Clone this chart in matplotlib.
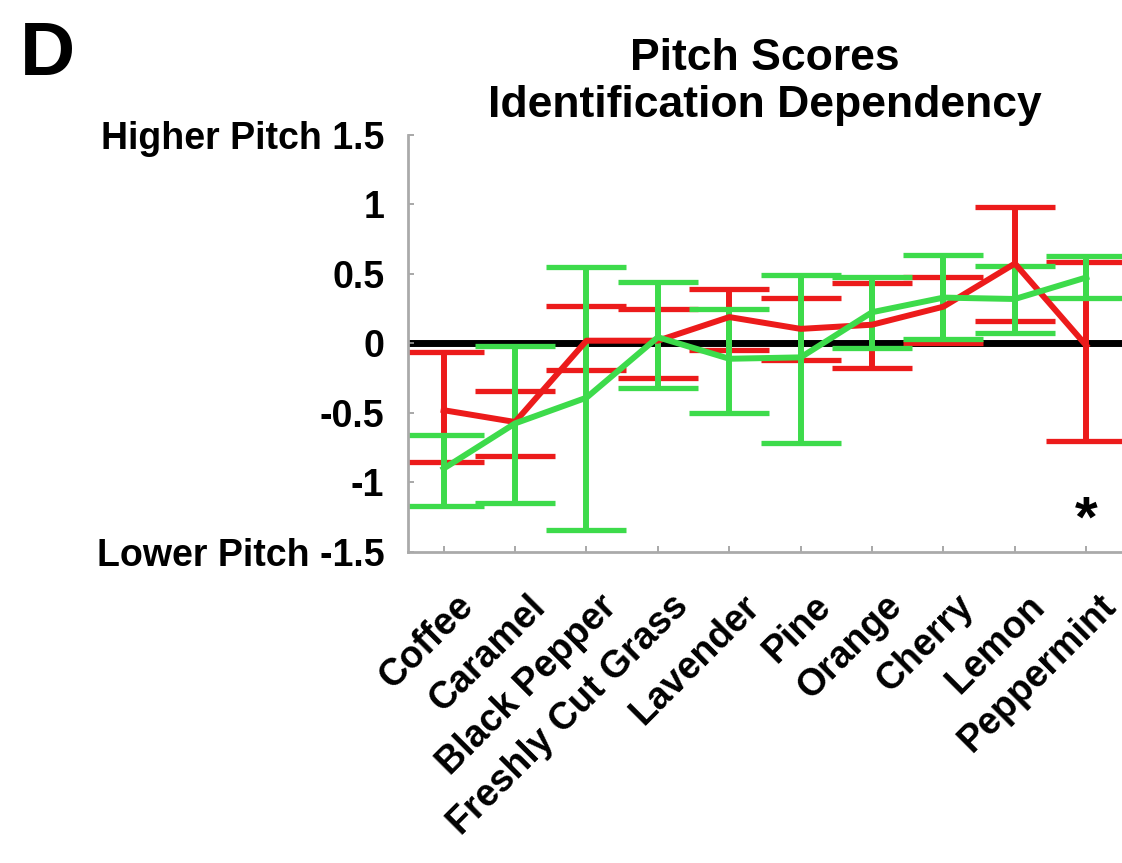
import matplotlib
matplotlib.use("Agg")
import matplotlib.pyplot as plt
import matplotlib.transforms as mtransforms
import numpy as np

plt.rcParams['font.family'] = ['Liberation Sans', 'DejaVu Sans']
plt.rcParams['font.weight'] = 'bold'

# odor categories
odores = ["Coffee", "Caramel", "Black Pepper", "Freshly Cut Grass", "Lavender",
          "Pine", "Orange", "Cherry", "Lemon", "Peppermint"]

# red series: mean, upper and lower error limits
media_vermelho = [-0.48, -0.565, 0.02, 0.02, 0.19, 0.105, 0.135, 0.265, 0.575, -0.015]
sup_vermelho = [-0.06, -0.34, 0.27, 0.25, 0.39, 0.33, 0.435, 0.48, 0.98, 0.585]
inf_vermelho = [-0.85, -0.81, -0.19, -0.25, -0.05, -0.12, -0.18, 0.0, 0.16, -0.70]

# green series
media_verde = [-0.90, -0.575, -0.39, 0.045, -0.11, -0.10, 0.225, 0.33, 0.32, 0.475]
sup_verde = [-0.655, -0.02, 0.55, 0.445, 0.25, 0.495, 0.48, 0.635, 0.56, 0.63]
inf_verde = [-1.17, -1.15, -1.34, -0.32, -0.50, -0.715, -0.035, 0.035, 0.075, 0.33]

yticks = [-1.5, -1, -0.5, 0, 0.5, 1, 1.5]
ytick_labels = ["Lower Pitch -1.5", "-1", "-0.5", "0", "0.5", "1", "Higher Pitch 1.5"]

x = np.arange(1, len(odores) + 1)

fig = plt.figure(figsize=(11.22, 8.63), dpi=100)
ax = fig.add_axes([0.3636, 0.3604, 0.6364, 0.4832])

ax.axhline(0, color='black', lw=5, zorder=1)

for media, sup, inf, cor in [(media_vermelho, sup_vermelho, inf_vermelho, '#ec1b1b'),
                             (media_verde, sup_verde, inf_verde, '#3ddb4b')]:
    media = np.array(media)
    erro = [media - np.array(inf), np.array(sup) - media]
    ax.errorbar(x, media, yerr=erro, color=cor, lw=4.3, elinewidth=4.3,
                capsize=29, capthick=3.8, zorder=2)

ax.text(10, -1.28, "*", fontsize=42, fontweight='bold', ha='center', va='center')

ax.set_xlim(0.5, 10.5)
ax.set_ylim(-1.5, 1.5)
ax.set_yticks(yticks)
ax.set_yticklabels(ytick_labels, fontsize=27)
ax.set_xticks(x)
ax.set_xticklabels(odores, fontsize=27, rotation=45, ha='right', va='top',
                   rotation_mode='anchor')

ax.tick_params(axis='both', direction='in', length=4, width=1.2, color='#999999')
ax.tick_params(axis='y', pad=17)
ax.tick_params(axis='x', pad=26)

# push the rotated names a bit to the right of their ticks
desloc = mtransforms.ScaledTranslation(0.12, 0, fig.dpi_scale_trans)
for rotulo in ax.get_xticklabels():
    rotulo.set_transform(rotulo.get_transform() + desloc)

for lado in ['top', 'right']:
    ax.spines[lado].set_visible(False)
for lado in ['left', 'bottom']:
    ax.spines[lado].set_color('#aaaaaa')
    ax.spines[lado].set_linewidth(2)

ax.set_title("Pitch Scores\nIdentification Dependency", fontsize=32,
             fontweight='bold', pad=13)
fig.text(20 / 1122, 1 - 75 / 863, "D", fontsize=55, fontweight='bold',
         ha='left', va='baseline')

fig.savefig("out.png", dpi=100)
